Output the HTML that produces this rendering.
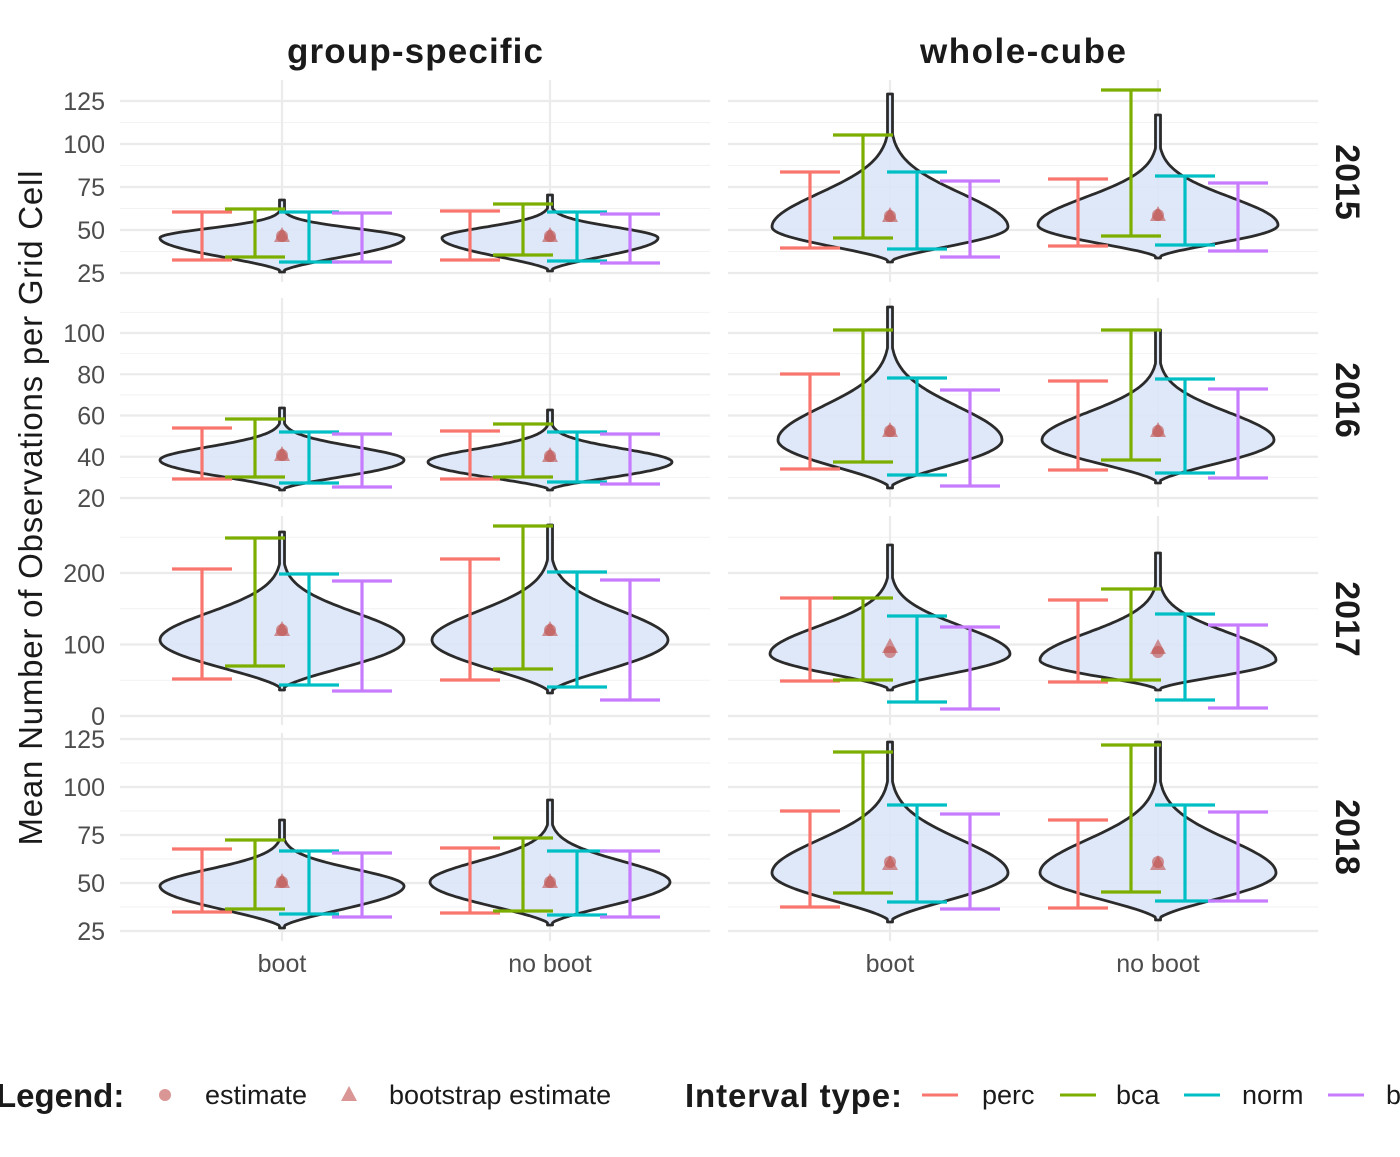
<!DOCTYPE html>
<html><head><meta charset="utf-8"><style>
html,body{margin:0;padding:0;background:#fff}
svg text{font-family:"Liberation Sans",sans-serif}
</style></head><body>
<svg id="s" width="1400" height="1152" xmlns="http://www.w3.org/2000/svg">
<text x="415" y="63" font-size="35" font-weight="bold" text-anchor="middle" fill="#1a1a1a" textLength="256">group-specific</text>
<text x="1023" y="63" font-size="35" font-weight="bold" text-anchor="middle" fill="#1a1a1a" textLength="206">whole-cube</text>
<text transform="translate(42,508) rotate(-90)" font-size="33" text-anchor="middle" fill="#1a1a1a" textLength="675">Mean Number of Observations per Grid Cell</text>
<g font-size="25" text-anchor="middle" fill="#4d4d4d">
<text x="282" y="972">boot</text>
<text x="550" y="972">no boot</text>
<text x="890" y="972">boot</text>
<text x="1158" y="972">no boot</text>
</g>
<g font-size="34" font-weight="bold" fill="#1a1a1a">
<text transform="translate(1336,182) rotate(90)" text-anchor="middle">2015</text>
<text transform="translate(1336,400) rotate(90)" text-anchor="middle">2016</text>
<text transform="translate(1336,619) rotate(90)" text-anchor="middle">2017</text>
<text transform="translate(1336,837) rotate(90)" text-anchor="middle">2018</text>
</g>
<g font-size="27" fill="#1a1a1a">
<text x="-4" y="1107" font-weight="bold" font-size="33">Legend:</text>
<circle cx="165" cy="1095" r="6" fill="#c0504d" fill-opacity="0.6"/>
<text x="205" y="1104">estimate</text>
<polygon points="349,1086 357,1101 341,1101" fill="#c0504d" fill-opacity="0.6"/>
<text x="389" y="1104">bootstrap estimate</text>
<text x="685" y="1107" font-weight="bold" font-size="33" textLength="217">Interval type:</text>
<line x1="922" y1="1095" x2="958" y2="1095" stroke="#F8766D" stroke-width="3"/><text x="982" y="1104">perc</text>
<line x1="1060" y1="1095" x2="1096" y2="1095" stroke="#7CAE00" stroke-width="3"/><text x="1116" y="1104">bca</text>
<line x1="1184" y1="1095" x2="1220" y2="1095" stroke="#00BFC4" stroke-width="3"/><text x="1242" y="1104">norm</text>
<line x1="1328" y1="1095" x2="1364" y2="1095" stroke="#C77CFF" stroke-width="3"/><text x="1386" y="1104">basic</text>
</g>
<g id="g"></g>
</svg>
<script>
var NS="http://www.w3.org/2000/svg",G=document.getElementById("g");
function el(t,a){var e=document.createElementNS(NS,t);for(var k in a)e.setAttribute(k,a[k]);G.appendChild(e);return e;}
var rows=[
 {top:80,bot:282,ticks:[25,50,75,100,125],f:function(v){return 273-(v-25)*1.72}},
 {top:298,bot:507,ticks:[20,40,60,80,100],f:function(v){return 498-(v-20)*2.0625}},
 {top:516,bot:725,ticks:[0,100,200],f:function(v){return 716-v*0.715}},
 {top:733,bot:941,ticks:[25,50,75,100,125],f:function(v){return 931-(v-25)*1.92}}];
var cols=[[120,710,282,550],[728,1318,890,1158]];
rows.forEach(function(r,ri){
 var step=r.ticks[1]-r.ticks[0];
 cols.forEach(function(c,ci){
  for(var v=r.ticks[0]-step/2;v<=r.ticks[r.ticks.length-1]+step;v+=step/2){
   var y=r.f(v);if(y<r.top||y>r.bot)continue;
   var maj=r.ticks.indexOf(v)>=0;
   el("line",{x1:c[0],x2:c[1],y1:y,y2:y,stroke:maj?"#ebebeb":"#f2f2f2","stroke-width":maj?2.2:1.1});
  }
  el("line",{x1:c[2],x2:c[2],y1:r.top,y2:r.bot,stroke:"#ebebeb","stroke-width":2.2});
  el("line",{x1:c[3],x2:c[3],y1:r.top,y2:r.bot,stroke:"#ebebeb","stroke-width":2.2});
 });
 r.ticks.forEach(function(v){var t=el("text",{x:105,y:r.f(v)+9,"font-size":"25","text-anchor":"end",fill:"#4d4d4d"});t.textContent=v;});
});
var P=[
[282,272,200,238,122,[212,260],[209,257],[212,262],[213,262],236,236],
[550,271,195,238,108,[211,260],[204,255],[212,261],[214,263],236,236],
[890,262,94,227,118,[172,248],[135,238],[172,249],[181,257],216,216],
[1158,258,115,225,120,[179,246],[90,236],[176,245],[183,251],215,215],
[282,490,408,460,122,[428,479],[419,477],[432,483],[434,487],455,455],
[550,490,410,462,122,[431,479],[424,477],[432,482],[434,484],456,456],
[890,488,307,440,112,[374,469],[330,462],[378,475],[390,486],431,431],
[1158,483,330,440,116,[381,470],[330,460],[379,473],[389,478],431,431],
[282,690,532,640,122,[569,679],[538,666],[574,685],[581,691],630,630],
[550,693,525,640,118,[559,680],[526,669],[572,687],[580,700],630,630],
[890,690,545,654,120,[598,681],[598,680],[616,702],[627,709],652,647],
[1158,690,553,660,118,[600,682],[589,680],[614,700],[625,708],652,648],
[282,928,820,886,122,[849,912],[840,909],[851,914],[853,917],882,882],
[550,925,800,882,120,[848,913],[838,911],[851,915],[851,917],882,882],
[890,922,742,873,118,[811,907],[752,893],[805,902],[814,909],862,864],
[1158,920,742,873,118,[820,908],[745,892],[805,901],[812,901],862,864]];
var cl=["#F8766D","#7CAE00","#00BFC4","#C77CFF"],off=[-80,-27,27,80];
P.forEach(function(p){
 var x=p[0],yb=p[1],yt=p[2],yw=p[3],hw=p[4],R=[],L=[];
 for(var i=0;i<=120;i++){var y=yb-(yb-yt)*i/120,w;
  if(y>=yw){var s=(yb-y)/(yb-yw);w=hw*Math.pow(Math.sin(Math.PI/2*s),1.6);}
  else{var d=(yw-y);var q=d/((yw-yt)*0.45);w=hw*Math.exp(-q*q*1.6);}
  w=Math.max(w,2.5);R.push((x+w).toFixed(1)+","+y.toFixed(1));L.unshift((x-w).toFixed(1)+","+y.toFixed(1));}
 el("polygon",{points:R.concat(L).join(" "),fill:"#dce6f8","fill-opacity":0.9,stroke:"#2b2b2b","stroke-width":2.8,"stroke-linejoin":"round"});
 el("circle",{cx:x,cy:p[9],r:6,fill:"#c0504d","fill-opacity":0.6});
 var t=p[10];el("polygon",{points:x+","+(t-9)+" "+(x+8)+","+(t+6)+" "+(x-8)+","+(t+6),fill:"#c0504d","fill-opacity":0.6});
 for(var k=0;k<4;k++){var iv=p[5+k],cx=x+off[k];
  el("line",{x1:cx,x2:cx,y1:iv[0],y2:iv[1],stroke:cl[k],"stroke-width":3.2});
  el("line",{x1:cx-30,x2:cx+30,y1:iv[0],y2:iv[0],stroke:cl[k],"stroke-width":3.2});
  el("line",{x1:cx-30,x2:cx+30,y1:iv[1],y2:iv[1],stroke:cl[k],"stroke-width":3.2});}
});
</script>
</body></html>
